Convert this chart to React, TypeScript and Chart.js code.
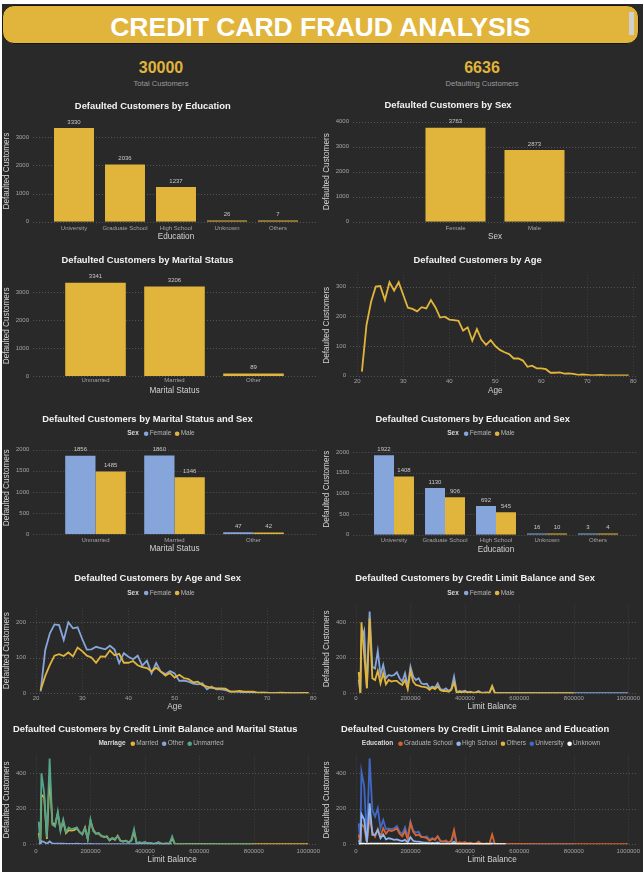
import { useEffect, useRef } from 'react';
import { Chart, registerables } from 'chart.js';

Chart.register(...registerables);

// ---------- data ----------
const TOTAL_CUSTOMERS = 30000;
const DEFAULTING_CUSTOMERS = 6636;

const EDUCATION = ['University', 'Graduate School', 'High School', 'Unknown', 'Others'];
const EDU_DEFAULTS = [3330, 2036, 1237, 26, 7];
const EDU_FEMALE = [1922, 1130, 692, 16, 3];
const EDU_MALE = [1408, 906, 545, 10, 4];

const SEXES = ['Female', 'Male'];
const SEX_DEFAULTS = [3763, 2873];

const MARITAL = ['Unmarried', 'Married', 'Other'];
const MARITAL_DEFAULTS = [3341, 3206, 89];
const MARITAL_FEMALE = [1856, 1860, 47];
const MARITAL_MALE = [1485, 1346, 42];

const AGES = [
  21, 22, 23, 24, 25, 26, 27, 28, 29, 30, 31, 32, 33, 34, 35, 36, 37, 38, 39, 40,
  41, 42, 43, 44, 45, 46, 47, 48, 49, 50, 51, 52, 53, 54, 55, 56, 57, 58, 59, 60,
  61, 62, 63, 64, 65, 66, 67, 68, 69, 70, 71, 72, 73, 74, 75, 76, 77, 78, 79,
];
const AGE_DEFAULTS = [
  14, 171, 249, 300, 302, 255, 315, 287, 315, 272, 229, 225, 217, 231, 227, 255, 230, 196, 199, 189,
  187, 185, 152, 163, 118, 157, 122, 104, 120, 100, 87, 79, 73, 58, 58, 51, 30, 34, 25, 25,
  22, 10, 10, 11, 7, 8, 6, 3, 4, 3, 1, 2, 3, 1, 1, 1, 1, 1, 1,
];
const AGE_FEMALE = [
  5, 122, 169, 194, 192, 150, 200, 183, 186, 153, 123, 124, 131, 127, 124, 134, 123, 85, 113, 103,
  96, 106, 78, 92, 56, 85, 61, 54, 63, 56, 35, 36, 33, 27, 25, 28, 11, 19, 11, 11,
  9, 5, 5, 4, 2, 3, 1, 1, 2, 1, 1, 1, 1, 0, 0, 1, 0, 0, 0,
];
const AGE_MALE = [
  9, 49, 80, 106, 110, 105, 115, 104, 129, 119, 106, 101, 86, 104, 103, 121, 107, 111, 86, 86,
  91, 79, 74, 71, 62, 72, 61, 50, 57, 44, 52, 43, 40, 31, 33, 23, 19, 15, 14, 14,
  13, 5, 5, 7, 5, 5, 5, 2, 2, 2, 0, 1, 2, 1, 1, 0, 1, 1, 1,
];

const LIMITS = [
  10000, 16000, 20000, 30000, 40000, 50000, 60000, 70000, 80000, 90000,
  100000, 110000, 120000, 130000, 140000, 150000, 160000, 170000, 180000, 190000,
  200000, 210000, 220000, 230000, 240000, 250000, 260000, 270000, 280000, 290000,
  300000, 310000, 320000, 330000, 340000, 350000, 360000, 370000, 380000, 390000,
  400000, 410000, 420000, 430000, 440000, 450000, 460000, 470000, 480000, 490000,
  500000, 510000, 550000, 600000, 700000, 800000, 1000000,
];
const LIM_FEMALE = [
  77, 1, 298, 351, 30, 460, 150, 140, 238, 103, 160, 85, 103, 98, 103, 118, 85, 66, 113, 38,
  150, 94, 75, 85, 56, 51, 54, 28, 38, 32, 56, 24, 19, 28, 13, 24, 94, 6, 13, 9,
  15, 6, 9, 4, 5, 13, 3, 3, 5, 3, 38, 2, 2, 2, 1, 1, 1,
];
const LIM_MALE = [
  120, 1, 400, 217, 28, 422, 85, 75, 126, 56, 113, 51, 75, 66, 70, 70, 56, 47, 75, 24,
  126, 66, 47, 43, 38, 36, 32, 19, 32, 24, 38, 17, 13, 13, 9, 19, 62, 4, 8, 6,
  9, 4, 6, 3, 4, 9, 2, 2, 4, 2, 41, 1, 1, 1, 1, 1, null,
];
const LIM_MARRIED = [
  65, 1, 280, 265, 30, 385, 120, 110, 175, 80, 130, 63, 80, 77, 80, 90, 68, 56, 95, 30,
  133, 83, 60, 61, 48, 41, 45, 22, 34, 25, 48, 20, 16, 20, 11, 22, 70, 5, 10, 7,
  12, 5, 7, 3, 5, 12, 3, 2, 5, 3, 33, 1, 2, 2, 1, 1, 1,
];
const LIM_OTHER = [
  5, 0, 18, 13, 3, 16, 5, 4, 4, 3, 3, 2, 2, 2, 2, 3, 2, 1, 2, 1,
  2, 1, 1, 1, 1, 1, 1, 1, 1, 1, 1, 1, 1, 1, 1, 1, 1, 1, 1, 1,
  1, 1, 1, 1, 1, 1, 1, 1, 1, 1, 1, null, null, null, null, null, null,
];
const LIM_UNMARRIED = [
  127, 1, 400, 290, 40, 484, 110, 100, 185, 75, 140, 70, 95, 85, 90, 95, 70, 55, 90, 30,
  140, 75, 60, 65, 45, 45, 40, 25, 35, 30, 45, 20, 15, 20, 10, 20, 85, 5, 10, 8,
  12, 5, 8, 4, 4, 10, 2, 3, 4, 2, 45, 2, 1, 1, 1, 1, null,
];
const LIM_GRADUATE = [
  55, 0, 115, 95, 12, 150, 71, 43, 85, 43, 90, 60, 80, 75, 80, 90, 60, 45, 75, 25,
  120, 70, 50, 55, 40, 40, 35, 20, 30, 25, 45, 18, 15, 18, 10, 20, 80, 5, 10, 8,
  12, 6, 9, 4, 5, 15, 3, 3, 5, 3, 55, 2, 2, 2, 1, 1, 1,
];
const LIM_HIGHSCHOOL = [
  22, 0, 170, 140, 10, 231, 53, 53, 81, 34, 56, 28, 34, 30, 25, 28, 22, 18, 25, 10,
  40, 20, 15, 15, 12, 10, 10, 6, 8, 6, 10, 4, 3, 5, 2, 4, 15, 1, 2, 1,
  2, 1, 1, 1, 1, 1, 1, 1, 1, 1, 3, null, null, null, null, null, null,
];
const LIM_OTHERS = [
  1, 0, 2, 1, 0, 2, 1, 1, 1, 1, 1, 1, 1, 1, 1, 1, 1, 1, 1, 1,
  1, 1, 1, 1, 1, 1, 1, 1, 1, 1, 1, 1, 1, 1, 1, 1, 1, 1, 1, 1,
  1, 1, 1, 1, 1, 1, 1, 1, 1, 1, 1, null, null, null, null, null, null,
];
const LIM_UNIVERSITY = [
  118, 1, 410, 330, 25, 485, 193, 156, 203, 90, 137, 85, 90, 85, 90, 103, 71, 58, 96, 43,
  128, 77, 66, 71, 43, 39, 45, 25, 35, 28, 45, 20, 15, 22, 10, 18, 60, 5, 10, 6,
  10, 4, 6, 3, 3, 8, 2, 2, 3, 2, 10, 1, 1, 1, 1, 1, null,
];
const LIM_UNKNOWN = [
  2, 0, 3, 3, 1, 4, 3, 3, 4, 3, 4, 3, 3, 3, 3, 4, 3, 2, 3, 2,
  4, 3, 2, 2, 2, 2, 2, 1, 2, 1, 2, 1, 1, 1, 1, 1, 2, 1, 1, 1,
  1, 1, 1, 1, 1, 1, 1, 1, 1, 1, 1, 1, 1, null, null, null, null,
];

// ---------- style ----------
const FONT = "'Liberation Sans', Arial, sans-serif";
const BG = '#292929';
const YELLOW = '#e1b43b';
const BLUE = '#86a6db';
const GREEN = '#55a58a';
const ORANGE = '#d4652e';
const LIGHT_BLUE = '#8db6ef';
const UNI_BLUE = '#4068c4';
const WHITE = '#ffffff';
const TITLE_COLOR = '#f2f2f2';
const AXIS_COLOR = '#d2d2d2';
const TICK_COLOR = '#a3a3a3';
const VALUE_COLOR = '#c8c8c8';
const GRID_COLOR = '#545454';
const VGRID_COLOR = '#3f3f3f';

const TITLE_SIZE = 9.4;
const AXIS_SIZE = 8.2;
const TICK_SIZE = 6;
const LEG_SIZE = 6.5;

Chart.defaults.font.family = FONT;

type Frame = {
  x: number; y: number; w: number; h: number;
  titleY: number; legendY?: number;
  left: number; right: number; top: number; bottom: number;
  tickRight: number; yTitleX: number; xTickY: number; xTitleY: number;
};

const EDU_F: Frame = { x: 2, y: 96, w: 318, h: 148, titleY: 106, left: 48.5, right: 303.5, top: 120.4, bottom: 221.7, tickRight: 29, yTitleX: 7, xTickY: 228, xTitleY: 236.7 };
const SEX_F: Frame = { x: 322, y: 96, w: 318, h: 148, titleY: 105.7, left: 416, right: 574, top: 121.7, bottom: 221.7, tickRight: 349, yTitleX: 327, xTickY: 228.3, xTitleY: 236.7 };
const MAR_F: Frame = { x: 2, y: 251, w: 318, h: 147, titleY: 260, left: 56, right: 293, top: 275.6, bottom: 376, tickRight: 29, yTitleX: 7, xTickY: 380.7, xTitleY: 390.7 };
const AGE_F: Frame = { x: 322, y: 251, w: 318, h: 147, titleY: 260, left: 357.3, right: 633.3, top: 274.8, bottom: 375.7, tickRight: 346, yTitleX: 327, xTickY: 381.7, xTitleY: 390.7 };
const MARSEX_F: Frame = { x: 2, y: 407, w: 318, h: 149, titleY: 419, legendY: 433.7, left: 56, right: 293, top: 441.2, bottom: 534.3, tickRight: 29.3, yTitleX: 7, xTickY: 540, xTitleY: 549 };
const EDUSEX_F: Frame = { x: 322, y: 407, w: 318, h: 149, titleY: 419, legendY: 433.7, left: 368.5, right: 623.5, top: 443.7, bottom: 534.7, tickRight: 349.3, yTitleX: 327, xTickY: 540.3, xTitleY: 549.3 };
const AGESEX_F: Frame = { x: 2, y: 567, w: 318, h: 147, titleY: 578.3, legendY: 593, left: 36, right: 313.3, top: 608.1, bottom: 693.3, tickRight: 26, yTitleX: 7, xTickY: 698.3, xTitleY: 707 };
const LIMSEX_F: Frame = { x: 322, y: 567, w: 318, h: 147, titleY: 578.3, legendY: 593, left: 356, right: 628.3, top: 604.5, bottom: 693.3, tickRight: 346, yTitleX: 327, xTickY: 698.3, xTitleY: 707 };
const LIMMAR_F: Frame = { x: 2, y: 718, w: 318, h: 152, titleY: 729, legendY: 743.7, left: 36, right: 308.3, top: 755.6, bottom: 844.3, tickRight: 26, yTitleX: 7, xTickY: 851, xTitleY: 859.3 };
const LIMEDU_F: Frame = { x: 322, y: 718, w: 318, h: 152, titleY: 729, legendY: 743.7, left: 356, right: 628.3, top: 755.6, bottom: 844.3, tickRight: 346, yTitleX: 327, xTickY: 851, xTitleY: 859.3 };

type Spec = {
  title: string;
  xTitle: string;
  yMax: number;
  yStep: number;
  xRange?: [number, number, number];
  groupPct?: number;
};

type Series = { label: string; color: string; data: (number | null)[]; order?: number };

// dotted gridlines, as the source dashboard draws them
const dotGrid = (f: Frame, vertical: boolean) => ({
  id: 'dotGrid',
  beforeDatasetsDraw(chart: any) {
    const { ctx, chartArea, scales } = chart;
    ctx.save();
    ctx.lineWidth = 1;
    ctx.setLineDash([1, 2]);
    if (vertical) {
      ctx.strokeStyle = VGRID_COLOR;
      scales.x.ticks.forEach((t: any) => {
        const px = Math.round(scales.x.getPixelForValue(t.value)) + 0.5;
        ctx.beginPath();
        ctx.moveTo(px, chartArea.top);
        ctx.lineTo(px, chartArea.bottom);
        ctx.stroke();
      });
    }
    ctx.strokeStyle = GRID_COLOR;
    const x0 = f.tickRight + 4 - f.x;
    const x1 = f.w - 3;
    scales.y.ticks.forEach((t: any) => {
      const py = Math.round(scales.y.getPixelForValue(t.value)) + 0.5;
      ctx.beginPath();
      ctx.moveTo(x0, py);
      ctx.lineTo(x1, py);
      ctx.stroke();
    });
    ctx.restore();
  },
});

const valueLabels = {
  id: 'valueLabels',
  afterDatasetsDraw(chart: any) {
    const { ctx } = chart;
    ctx.save();
    ctx.font = `${TICK_SIZE}px ${FONT}`;
    ctx.fillStyle = VALUE_COLOR;
    ctx.textAlign = 'center';
    ctx.textBaseline = 'middle';
    chart.data.datasets.forEach((ds: any, di: number) => {
      chart.getDatasetMeta(di).data.forEach((el: any, i: number) => {
        ctx.fillText(String(ds.data[i]), el.x, el.y - 6);
      });
    });
    ctx.restore();
  },
};

const inlineLegend = (f: Frame, head: string, items: Series[]) => ({
  id: 'inlineLegend',
  afterDraw(chart: any) {
    const { ctx } = chart;
    const y = (f.legendY ?? 0) - f.y;
    const R = 2.3;
    ctx.save();
    ctx.textBaseline = 'middle';
    ctx.font = `bold ${LEG_SIZE}px ${FONT}`;
    const hw = ctx.measureText(head).width;
    ctx.font = `${LEG_SIZE}px ${FONT}`;
    const widths = items.map((s) => ctx.measureText(s.label).width);
    const total = hw + widths.reduce((sum, w, i) => sum + (i === 0 ? 5 : 3.5) + 2 * R + 1.2 + w, 0);
    let cx = f.w / 2 - total / 2;
    ctx.font = `bold ${LEG_SIZE}px ${FONT}`;
    ctx.fillStyle = '#d8d8d8';
    ctx.textAlign = 'left';
    ctx.fillText(head, cx, y);
    cx += hw;
    ctx.font = `${LEG_SIZE}px ${FONT}`;
    items.forEach((s, i) => {
      cx += i === 0 ? 5 : 3.5;
      ctx.fillStyle = s.color;
      ctx.beginPath();
      ctx.arc(cx + R, y, R, 0, Math.PI * 2);
      ctx.fill();
      cx += 2 * R + 1.2;
      ctx.fillStyle = '#b4b4b4';
      ctx.fillText(s.label, cx, y);
      cx += widths[i];
    });
    ctx.restore();
  },
});

function frameOptions(f: Frame, s: Spec) {
  const titleLH = TITLE_SIZE * 1.2;
  const axisLH = AXIS_SIZE * 1.2;
  const tickLH = TICK_SIZE * 1.2;
  const x: any = {
    type: s.xRange ? 'linear' : 'category',
    offset: !s.xRange,
    grid: { display: false, drawTicks: false },
    border: { display: false },
    ticks: {
      color: TICK_COLOR,
      font: { size: TICK_SIZE },
      padding: f.xTickY - f.bottom - tickLH / 2,
      maxRotation: 0,
      autoSkip: false,
    },
    title: {
      display: true,
      text: s.xTitle,
      color: AXIS_COLOR,
      font: { size: AXIS_SIZE },
      padding: { top: 0, bottom: f.y + f.h - f.xTitleY - axisLH / 2 },
    },
    afterFit: (sc: any) => {
      sc.height = f.y + f.h - f.bottom;
      sc.paddingLeft = 0;
      sc.paddingRight = 0;
    },
  };
  if (s.xRange) {
    const [lo, hi, step] = s.xRange;
    x.min = lo;
    x.max = hi;
    x.ticks.callback = (v: number) => String(v);
    x.afterBuildTicks = (sc: any) => {
      const out = [];
      for (let v = lo; v <= hi; v += step) out.push({ value: v });
      sc.ticks = out;
    };
  }
  return {
    responsive: false,
    animation: false,
    events: [],
    layout: { padding: { left: 0, top: 0, bottom: 0, right: f.x + f.w - f.right } },
    plugins: {
      legend: { display: false },
      tooltip: { enabled: false },
      title: {
        display: true,
        text: s.title,
        color: TITLE_COLOR,
        font: { size: TITLE_SIZE, weight: 'bold', lineHeight: 1.2 },
        padding: { top: f.titleY - f.y - titleLH / 2, bottom: f.top - f.titleY - titleLH / 2 },
      },
    },
    scales: {
      x,
      y: {
        min: 0,
        max: s.yMax,
        grid: { display: false, drawTicks: false },
        border: { display: false },
        ticks: {
          color: TICK_COLOR,
          font: { size: TICK_SIZE },
          padding: f.left - f.tickRight,
          autoSkip: false,
          callback: (v: number) => String(v),
        },
        afterBuildTicks: (sc: any) => {
          const out = [];
          for (let v = 0; v <= s.yMax; v += s.yStep) out.push({ value: v });
          sc.ticks = out;
        },
        title: {
          display: true,
          text: 'Defaulted Customers',
          color: AXIS_COLOR,
          font: { size: AXIS_SIZE },
          padding: { top: f.yTitleX - f.x - axisLH / 2, bottom: 0 },
        },
        afterFit: (sc: any) => {
          sc.width = f.left - f.x;
          sc.paddingTop = 0;
          sc.paddingBottom = 0;
        },
      },
    },
  };
}

function barConfig(f: Frame, s: Spec, labels: string[], sets: Series[], legendHead?: string) {
  const plugins: any[] = [dotGrid(f, false), valueLabels];
  if (legendHead) plugins.push(inlineLegend(f, legendHead, sets));
  return {
    type: 'bar',
    data: {
      labels,
      datasets: sets.map((d) => ({
        label: d.label,
        data: d.data,
        backgroundColor: d.color,
        borderWidth: 0,
        barPercentage: 1,
        categoryPercentage: s.groupPct,
        minBarLength: 1.2,
      })),
    },
    options: frameOptions(f, s),
    plugins,
  };
}

function lineConfig(f: Frame, s: Spec, xs: number[], sets: Series[], legendHead?: string) {
  const plugins: any[] = [dotGrid(f, true)];
  if (legendHead) plugins.push(inlineLegend(f, legendHead, sets));
  return {
    type: 'line',
    data: {
      datasets: sets.map((d) => ({
        label: d.label,
        data: xs.map((x, i) => ({ x, y: d.data[i] })),
        borderColor: d.color,
        backgroundColor: d.color,
        borderWidth: 1.8,
        pointRadius: 0,
        tension: 0,
        fill: false,
        spanGaps: false,
        order: d.order ?? 0,
      })),
    },
    options: frameOptions(f, s),
    plugins,
  };
}

function DashChart({ f, config }: { f: Frame; config: () => any }) {
  const canvasRef = useRef<HTMLCanvasElement>(null);
  useEffect(() => {
    if (!canvasRef.current) return;
    const chart = new Chart(canvasRef.current, config() as any);
    return () => chart.destroy();
  }, []);
  return (
    <canvas
      ref={canvasRef}
      width={f.w}
      height={f.h}
      style={{ position: 'absolute', left: f.x, top: f.y }}
    />
  );
}

function Kpi({ cx, value, label }: { cx: number; value: number; label: string }) {
  return (
    <>
      <div style={{ position: 'absolute', left: cx - 100, top: 59, width: 200, textAlign: 'center', color: YELLOW, font: `bold 16px/18px ${FONT}` }}>
        {value}
      </div>
      <div style={{ position: 'absolute', left: cx - 100, top: 79, width: 200, textAlign: 'center', color: '#9c9c9c', font: `7.6px/10px ${FONT}` }}>
        {label}
      </div>
    </>
  );
}

const limitRange: [number, number, number] = [0, 1000000, 200000];

export default function App() {
  return (
    <div style={{ position: 'absolute', left: 0, top: 0, width: 643, height: 876, background: '#ffffff', overflow: 'hidden' }}>
      <div style={{ position: 'absolute', left: 2, top: 4, width: 641, height: 868, background: BG }} />
      <div
        style={{
          position: 'absolute', left: 2, top: 5, width: 637, height: 39, boxSizing: 'border-box',
          background: YELLOW, border: '1.5px solid #161616', borderRadius: 12,
        }}
      />
      <div style={{ position: 'absolute', left: 2, top: 12, width: 637, textAlign: 'center', color: '#ffffff', font: `bold 26.5px/30px ${FONT}` }}>
        CREDIT CARD FRAUD ANALYSIS
      </div>
      <div style={{ position: 'absolute', left: 629, top: 12, width: 5, height: 23, background: '#d0d0d0' }} />
      <Kpi cx={161} value={TOTAL_CUSTOMERS} label="Total Customers" />
      <Kpi cx={482} value={DEFAULTING_CUSTOMERS} label="Defaulting Customers" />

      <DashChart
        f={EDU_F}
        config={() => barConfig(EDU_F, { title: 'Defaulted Customers by Education', xTitle: 'Education', yMax: 3600, yStep: 1000, groupPct: 0.784 }, EDUCATION,
          [{ label: 'Defaulted', color: YELLOW, data: EDU_DEFAULTS }])}
      />
      <DashChart
        f={SEX_F}
        config={() => barConfig(SEX_F, { title: 'Defaulted Customers by Sex', xTitle: 'Sex', yMax: 4000, yStep: 1000, groupPct: 0.76 }, SEXES,
          [{ label: 'Defaulted', color: YELLOW, data: SEX_DEFAULTS }])}
      />
      <DashChart
        f={MAR_F}
        config={() => barConfig(MAR_F, { title: 'Defaulted Customers by Marital Status', xTitle: 'Marital Status', yMax: 3600, yStep: 1000, groupPct: 0.767 }, MARITAL,
          [{ label: 'Defaulted', color: YELLOW, data: MARITAL_DEFAULTS }])}
      />
      <DashChart
        f={AGE_F}
        config={() => lineConfig(AGE_F, { title: 'Defaulted Customers by Age', xTitle: 'Age', yMax: 340, yStep: 100, xRange: [20, 80, 10] }, AGES,
          [{ label: 'Defaulted', color: YELLOW, data: AGE_DEFAULTS }])}
      />
      <DashChart
        f={MARSEX_F}
        config={() => barConfig(MARSEX_F, { title: 'Defaulted Customers by Marital Status and Sex', xTitle: 'Marital Status', yMax: 2200, yStep: 500, groupPct: 0.767 }, MARITAL,
          [{ label: 'Female', color: BLUE, data: MARITAL_FEMALE }, { label: 'Male', color: YELLOW, data: MARITAL_MALE }], 'Sex')}
      />
      <DashChart
        f={EDUSEX_F}
        config={() => barConfig(EDUSEX_F, { title: 'Defaulted Customers by Education and Sex', xTitle: 'Education', yMax: 2200, yStep: 500, groupPct: 0.784 }, EDUCATION,
          [{ label: 'Female', color: BLUE, data: EDU_FEMALE }, { label: 'Male', color: YELLOW, data: EDU_MALE }], 'Sex')}
      />
      <DashChart
        f={AGESEX_F}
        config={() => lineConfig(AGESEX_F, { title: 'Defaulted Customers by Age and Sex', xTitle: 'Age', yMax: 240, yStep: 100, xRange: [20, 80, 10] }, AGES,
          [{ label: 'Female', color: BLUE, data: AGE_FEMALE, order: 1 }, { label: 'Male', color: YELLOW, data: AGE_MALE, order: 0 }], 'Sex')}
      />
      <DashChart
        f={LIMSEX_F}
        config={() => lineConfig(LIMSEX_F, { title: 'Defaulted Customers by Credit Limit Balance and Sex', xTitle: 'Limit Balance', yMax: 500, yStep: 200, xRange: limitRange }, LIMITS,
          [{ label: 'Female', color: BLUE, data: LIM_FEMALE, order: 1 }, { label: 'Male', color: YELLOW, data: LIM_MALE, order: 0 }], 'Sex')}
      />
      <DashChart
        f={LIMMAR_F}
        config={() => lineConfig(LIMMAR_F, { title: 'Defaulted Customers by Credit Limit Balance and Marital Status', xTitle: 'Limit Balance', yMax: 500, yStep: 200, xRange: limitRange }, LIMITS,
          [
            { label: 'Married', color: YELLOW, data: LIM_MARRIED, order: 2 },
            { label: 'Other', color: BLUE, data: LIM_OTHER, order: 0 },
            { label: 'Unmarried', color: GREEN, data: LIM_UNMARRIED, order: 1 },
          ], 'Marriage')}
      />
      <DashChart
        f={LIMEDU_F}
        config={() => lineConfig(LIMEDU_F, { title: 'Defaulted Customers by Credit Limit Balance and Education', xTitle: 'Limit Balance', yMax: 500, yStep: 200, xRange: limitRange }, LIMITS,
          [
            { label: 'Graduate School', color: ORANGE, data: LIM_GRADUATE, order: 3 },
            { label: 'High School', color: LIGHT_BLUE, data: LIM_HIGHSCHOOL, order: 2 },
            { label: 'Others', color: YELLOW, data: LIM_OTHERS, order: 1 },
            { label: 'University', color: UNI_BLUE, data: LIM_UNIVERSITY, order: 4 },
            { label: 'Unknown', color: WHITE, data: LIM_UNKNOWN, order: 0 },
          ], 'Education')}
      />
    </div>
  );
}
